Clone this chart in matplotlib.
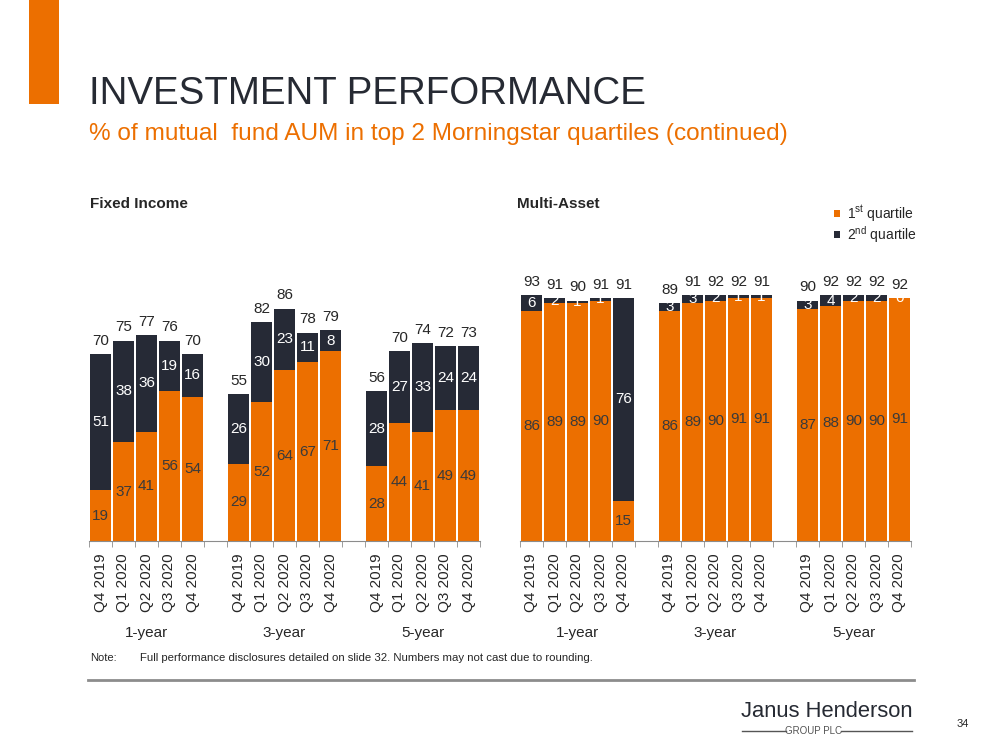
import matplotlib.pyplot as plt
from matplotlib.lines import Line2D
from matplotlib.patches import Rectangle

plt.rcParams['font.family'] = ['Liberation Sans', 'DejaVu Sans']
plt.rcParams['mathtext.fontset'] = 'custom'
plt.rcParams['mathtext.rm'] = 'Liberation Sans'

# data
groups = ['1-year', '3-year', '5-year']
quarters = ['Q4 2019', 'Q1 2020', 'Q2 2020', 'Q3 2020', 'Q4 2020']

fi_first = [19, 37, 41, 56, 54, 29, 52, 64, 67, 71, 28, 44, 41, 49, 49]
fi_second = [51, 38, 36, 19, 16, 26, 30, 23, 11, 8, 28, 27, 33, 24, 24]
fi_total = [70, 75, 77, 76, 70, 55, 82, 86, 78, 79, 56, 70, 74, 72, 73]

ma_first = [86, 89, 89, 90, 15, 86, 89, 90, 91, 91, 87, 88, 90, 90, 91]
ma_second = [6, 2, 1, 1, 76, 3, 3, 2, 1, 1, 3, 4, 2, 2, 0]
ma_total = [93, 91, 90, 91, 91, 89, 91, 92, 92, 91, 90, 92, 92, 92, 92]

ORANGE = '#EC6F00'
NAVY = '#262A36'
GREY = '#8c8c8c'

fig = plt.figure(figsize=(10, 7.5), dpi=100)

# slot positions: 5 bars per group, one empty slot between groups
pos = [g * 6 + i for g in range(len(groups)) for i in range(len(quarters))]


def draw_panel(ax, first, second, total):
    b1 = ax.bar(pos, first, width=0.92, color=ORANGE)
    b2 = ax.bar(pos, second, width=0.92, bottom=first, color=NAVY)
    for x, f, s, t in zip(pos, first, second, total):
        ax.text(x, f / 2, str(f), ha='center', va='center', fontsize=11, color='#3a3a3a')
        ax.text(x, f + s / 2, str(s), ha='center', va='center', fontsize=11, color='white')
        ax.annotate(str(t), (x, f + s), xytext=(0, 4.5), textcoords='offset points',
                    ha='center', va='bottom', fontsize=11, color='#262626')
    ax.set_xlim(-0.5, 16.5)
    ax.set_ylim(0, 100)
    for sp in ['top', 'right', 'left']:
        ax.spines[sp].set_visible(False)
    ax.spines['bottom'].set_color(GREY)
    ax.set_yticks([])
    ax.set_xticks(pos)
    ax.set_xticklabels(quarters * len(groups), rotation=90, fontsize=11, color='#262626')
    ax.tick_params(axis='x', which='major', length=0, pad=9)
    ax.set_xticks([x - 0.5 for x in range(18)], minor=True)
    ax.tick_params(axis='x', which='minor', length=4, color=GREY)
    for g, name in enumerate(groups):
        ax.text(g * 6 + 2, -0.345, name, transform=ax.get_xaxis_transform(),
                ha='center', va='center', fontsize=11, color='#262626')
    return b1, b2


ax1 = fig.add_axes([0.089, 0.2787, 0.391, 0.356])
draw_panel(ax1, fi_first, fi_second, fi_total)
ax2 = fig.add_axes([0.520, 0.2787, 0.391, 0.356])
h1, h2 = draw_panel(ax2, ma_first, ma_second, ma_total)

# panel titles
fig.text(0.090, 1 - 208 / 750, 'Fixed Income', fontsize=11, fontweight='bold', color='#262626', va='baseline')
fig.text(0.517, 1 - 208 / 750, 'Multi-Asset', fontsize=11, fontweight='bold', color='#262626', va='baseline')

# legend
fig.legend([h1, h2], [r'1$^{\mathrm{st}}$ quartile', r'2$^{\mathrm{nd}}$ quartile'],
           loc='upper left', bbox_to_anchor=(0.821, 1 - 191 / 750), frameon=False,
           handlelength=0.45, handleheight=0.45, handletextpad=0.5, labelspacing=0.0,
           fontsize=10, labelcolor='#262626')

# header
fig.add_artist(Rectangle((0.029, 1 - 104 / 750), 0.030, 104 / 750, transform=fig.transFigure,
                         color=ORANGE, lw=0))
fig.text(0.089, 1 - 104 / 750, 'INVESTMENT PERFORMANCE', fontsize=27.7, color='#262A33', va='baseline')
fig.text(0.089, 1 - 140 / 750, '% of mutual  fund AUM in top 2 Morningstar quartiles (continued)',
         fontsize=17.6, color=ORANGE, va='baseline')

# footer
fig.text(0.090, 1 - 661 / 750, 'Note:', fontsize=8, color='#262626', va='baseline')
fig.text(0.140, 1 - 661 / 750,
         'Full performance disclosures detailed on slide 32. Numbers may not cast due to rounding.',
         fontsize=8.2, color='#262626', va='baseline')
fig.add_artist(Line2D([0.088, 0.914], [1 - 680 / 750] * 2, transform=fig.transFigure, color=GREY, lw=2))
fig.text(0.827, 1 - 717 / 750, 'Janus Henderson', fontsize=15.8, color='#262A33', ha='center', va='baseline')
fig.text(0.8135, 1 - 731 / 750, 'GROUP PLC', fontsize=7, color='#555555', ha='center', va='center')
fig.add_artist(Line2D([0.742, 0.786], [1 - 731 / 750] * 2, transform=fig.transFigure, color='#555555', lw=1))
fig.add_artist(Line2D([0.841, 0.912], [1 - 731 / 750] * 2, transform=fig.transFigure, color='#555555', lw=1))
fig.text(0.957, 1 - 724 / 750, '34', fontsize=8, color='#262626', va='center')

fig.savefig('out.png', dpi=100)
